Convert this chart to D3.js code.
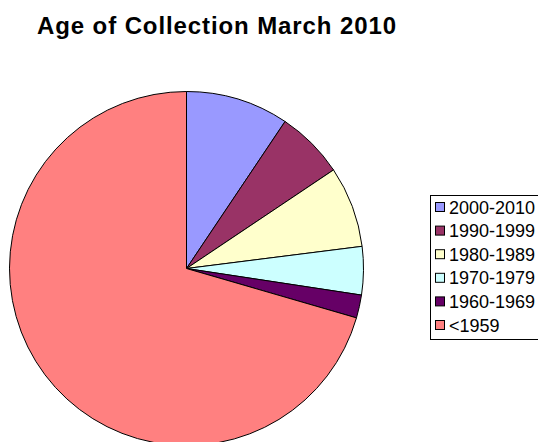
<!DOCTYPE html>
<html><head><meta charset="utf-8">
<script src="https://cdn.jsdelivr.net/npm/d3@7"></script>
<style>body{margin:0;background:#fff}svg{display:block}</style>
</head><body>
<script>
const categories = ["2000-2010","1990-1999","1980-1989","1970-1979","1960-1969","<1959"];
const values = [9.4, 6.2, 7.4, 4.4, 2.1, 70.5];
const colors = ["#9999FF","#993366","#FFFFCC","#CCFFFF","#660066","#FF8080"];
const title = "Age of Collection March 2010";

const W=538,H=442;
const svg=d3.select("body").append("svg").attr("width",W).attr("height",H);
svg.append("text").attr("x",37).attr("y",34).attr("font-family","Liberation Sans, Arial, sans-serif")
  .attr("font-weight","bold").attr("font-size",24).attr("letter-spacing",0.9).text(title);

const data=categories.map((c,i)=>({c,v:values[i],col:colors[i]}));
const pie=d3.pie().sort(null).value(d=>d.v);
const arc=d3.arc().innerRadius(0).outerRadius(177);
const g=svg.append("g").attr("transform","translate(186.5,268.5)");
g.selectAll("path").data(pie(data)).join("path").attr("d",arc)
  .attr("fill",d=>d.data.col).attr("stroke","#000").attr("stroke-width",1).attr("stroke-linejoin","round");

const lg=svg.append("g");
lg.append("rect").attr("x",430.5).attr("y",195.5).attr("width",120).attr("height",144)
  .attr("fill","#fff").attr("stroke","#000");
const y=d3.scalePoint().domain(categories).range([207,325]);
const items=lg.selectAll("g.i").data(data).join("g").attr("class","i")
  .attr("transform",d=>`translate(0,${y(d.c)})`);
items.append("rect").attr("x",435.5).attr("y",-4.5).attr("width",9).attr("height",9)
  .attr("fill",d=>d.col).attr("stroke","#000");
items.append("text").attr("x",449).attr("y",6.5).attr("font-family","Liberation Sans, Arial, sans-serif")
  .attr("font-size",18).text(d=>d.c);
</script>
</body></html>
